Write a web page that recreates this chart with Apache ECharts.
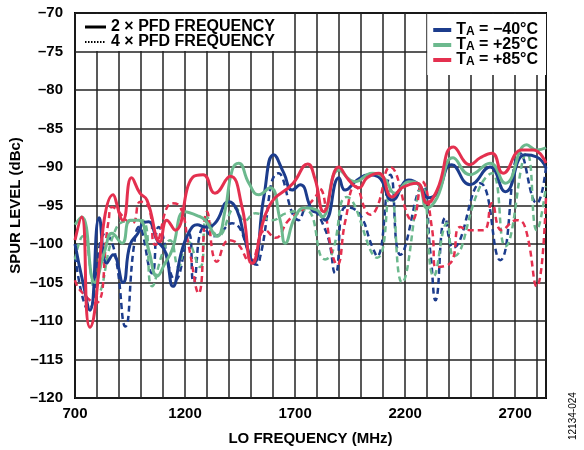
<!DOCTYPE html>
<html>
<head>
<meta charset="utf-8">
<script src="https://cdn.jsdelivr.net/npm/echarts@6/dist/echarts.min.js"></script>
<style>
	html, body { margin: 0; padding: 0; background: #fff; }
	#chart { width: 584px; height: 450px; }
</style>
</head>
<body>
<div id="chart"></div>
<script>
// x ticks / labels
var xTicks = [700, 1200, 1700, 2200, 2700];
var yTicks = [-120, -115, -110, -105, -100, -95, -90, -85, -80, -75, -70];
var tempNames = ['\u221240', '+25', '+85'];

// 2 x PFD frequency (solid) [MHz, dBc]
var blue2x = [[700,-100],[736,-105],[768,-108.6],[810,-96.6],[844,-102.5],[873,-101.4],[918,-105],[950,-100.1],[986,-98.6],[1009,-97.3],[1035,-97.1],[1073,-99.5],[1110,-101],[1145,-105.5],[1186,-100.8],[1223,-98.2],[1255,-97.5],[1291,-97.8],[1336,-97.3],[1399,-94.5],[1436,-95.6],[1473,-99.5],[1512,-102.5],[1558,-93.9],[1603,-88.4],[1649,-90.8],[1686,-93],[1723,-92.3],[1777,-95.6],[1808,-96],[1836,-96.9],[1899,-91.4],[1927,-93],[1982,-91.7],[2035,-91],[2080,-91.3],[2141,-94.3],[2217,-91.7],[2262,-92.3],[2307,-94],[2345,-93.4],[2412,-89.7],[2495,-92.3],[2586,-90],[2655,-93.2],[2745,-88.4],[2798,-88.7],[2840,-90.1]];
var green2x = [[700,-97.5],[731,-96.5],[790,-105],[836,-100.8],[868,-98.6],[914,-99.9],[950,-96.9],[990,-96.9],[1035,-100.8],[1073,-104.2],[1109,-102.5],[1141,-100.8],[1200,-95.8],[1255,-96.3],[1291,-96.9],[1345,-99],[1382,-95.6],[1414,-90.4],[1444,-89.5],[1490,-92.1],[1535,-93.6],[1586,-92.7],[1632,-96.9],[1655,-99.9],[1700,-96.5],[1745,-95.3],[1800,-95.6],[1823,-96.5],[1899,-90.4],[1973,-91.9],[2050,-90.8],[2103,-91.4],[2155,-93.4],[2217,-91.9],[2262,-92.3],[2300,-95.3],[2345,-94],[2418,-88.8],[2495,-91],[2586,-89.5],[2655,-92.1],[2753,-87.1],[2798,-87.8],[2840,-87.5]];
var red2x = [[700,-99.5],[730,-96.5],[768,-110.8],[873,-93.6],[917,-96.9],[957,-91.4],[995,-93.4],[1027,-94.3],[1086,-99.7],[1117,-96.9],[1155,-98.2],[1236,-91.3],[1282,-91],[1336,-93.4],[1405,-91.2],[1459,-95.2],[1505,-102.5],[1580,-95.2],[1691,-92.1],[1757,-89.6],[1790,-91.5],[1830,-95.8],[1899,-90],[1944,-91.7],[1990,-92.7],[2027,-91.4],[2080,-90.8],[2141,-93.9],[2186,-92.7],[2254,-92.1],[2300,-94.7],[2345,-93],[2420,-87.4],[2495,-89.7],[2541,-88.8],[2594,-88.2],[2645,-90.8],[2730,-87.8],[2782,-87.8],[2840,-89.5]];

// 4 x PFD frequency (dashed)
var blue4x = [[700,-101.6],[762,-108.6],[838,-98.6],[880,-101],[929,-110.7],[967,-100.4],[990,-97.8],[1050,-103.8],[1080,-97.8],[1156,-104.7],[1217,-98.6],[1239,-105],[1285,-97.9],[1330,-99],[1414,-97.3],[1527,-102.7],[1542,-101.6],[1626,-90.8],[1717,-96.9],[1755,-95.2],[1838,-98.2],[1883,-103.8],[1929,-95.2],[1990,-96],[2050,-100.3],[2073,-101.6],[2133,-91],[2179,-101.4],[2277,-92.5],[2315,-101.2],[2338,-107.3],[2382,-96.6],[2418,-100.5],[2541,-92.1],[2632,-102.1],[2723,-88.2],[2798,-94.7],[2840,-90]];
var green4x = [[700,-102],[735,-99],[800,-106.4],[883,-98.2],[940,-97],[1005,-96.9],[1050,-105.5],[1100,-101],[1132,-99.5],[1170,-103],[1208,-99.5],[1268,-103],[1300,-96.5],[1350,-99],[1429,-95.3],[1470,-97],[1520,-96],[1595,-96.9],[1660,-96],[1747,-95.6],[1836,-102],[1868,-101.2],[1935,-93.9],[2073,-101.8],[2132,-93],[2186,-105],[2277,-92.5],[2330,-104.2],[2390,-97.3],[2420,-101.6],[2541,-92.5],[2594,-90.8],[2655,-100.3],[2753,-88.2],[2798,-98.2],[2840,-92.5]];
var red4x = [[700,-104.7],[723,-106],[792,-107.7],[853,-96.9],[868,-95.2],[959,-97.3],[997,-94.5],[1035,-95.2],[1065,-100.1],[1141,-94.7],[1179,-95.2],[1217,-100.3],[1262,-106.4],[1300,-95.8],[1345,-102.3],[1399,-99.5],[1440,-100],[1495,-102.3],[1565,-98.2],[1610,-99.2],[1671,-96.9],[1732,-95.6],[1792,-93.9],[1810,-92.8],[1868,-101.2],[1891,-102.7],[1929,-96.9],[1974,-92.5],[2042,-96.2],[2073,-95.2],[2133,-90],[2232,-96.9],[2277,-91.9],[2323,-98.2],[2338,-103],[2405,-102.5],[2450,-97.8],[2495,-98.2],[2556,-98.2],[2594,-94.7],[2639,-98.2],[2707,-96.9],[2745,-97.8],[2798,-105.5],[2840,-93.9]];

var BLUE = '#1c3c8c';
var GREEN = '#6cb98e';
var RED = '#e4304f';
var FONT = '"Liberation Sans", Arial, sans-serif';

function solid(name, data, color) {
	return {
		name: name, type: 'line', data: data, smooth: 0.5, symbol: 'none', z: 3,
		itemStyle: { color: color },
		lineStyle: { color: color, width: 3 }
	};
}
function dashed(name, data, color) {
	return {
		name: name, type: 'line', data: data, smooth: 0.5, symbol: 'none', z: 2,
		itemStyle: { color: color },
		lineStyle: { color: color, width: 2.5, type: [6, 4] }
	};
}

var chart = echarts.init(document.getElementById('chart'));
var option = {
	animation: false,
	textStyle: { fontFamily: FONT },
	grid: { left: 75, right: 38, top: 13, bottom: 52, outerBoundsMode: 'none', containLabel: false, show: true, borderColor: '#000', borderWidth: 2 },
	xAxis: {
		type: 'value', min: 700, max: 2840, interval: 100,
		name: 'LO FREQUENCY (MHz)', nameLocation: 'middle', nameGap: 33,
		nameTextStyle: { fontWeight: 'bold', fontSize: 15, color: '#000', fontFamily: FONT },
		axisLine: { show: false }, axisTick: { show: false },
		axisLabel: {
			color: '#000', fontWeight: 'bold', fontSize: 15, margin: 8, fontFamily: FONT,
			showMaxLabel: false,
			formatter: function(v) { return xTicks.indexOf(v) >= 0 ? String(v) : ''; }
		},
		splitLine: { show: true, lineStyle: { color: '#222', width: 1.5 } }
	},
	yAxis: {
		type: 'value', min: yTicks[0], max: yTicks[yTicks.length - 1], interval: 5,
		name: 'SPUR LEVEL (dBc)', nameLocation: 'middle', nameGap: 52, nameMoveOverlap: false,
		nameTextStyle: { fontWeight: 'bold', fontSize: 15, color: '#000', fontFamily: FONT },
		axisLine: { show: false }, axisTick: { show: false },
		axisLabel: {
			color: '#000', fontWeight: 'bold', fontSize: 15, margin: 12, fontFamily: FONT,
			formatter: function(v) { return String(v).replace('-', '\u2013'); }
		},
		splitLine: { show: true, lineStyle: { color: '#222', width: 1.5 } }
	},
	legend: {
		data: tempNames, orient: 'vertical', right: 38, top: 14,
		backgroundColor: '#fff', padding: [6, 8, 7, 6], itemGap: -3,
		itemWidth: 18, itemHeight: 4, icon: 'rect',
		formatter: function(n) { return 'T{s|A} = ' + n + '\u00b0C'; },
		textStyle: {
			color: '#000', fontWeight: 'bold', fontSize: 16, fontFamily: FONT, lineHeight: 16,
			rich: { s: { fontSize: 12, fontWeight: 'bold', color: '#000', fontFamily: FONT, lineHeight: 16, verticalAlign: 'bottom', padding: [6, 0, 0, 0] } }
		}
	},
	graphic: [
		{ type: 'rect', left: 76, top: 14, z: 10, shape: { width: 208, height: 37 }, style: { fill: '#fff' } },
		{ type: 'line', z: 11, shape: { x1: 85, y1: 27, x2: 106, y2: 27 }, style: { stroke: '#000', lineWidth: 3 } },
		{ type: 'text', z: 11, x: 111, y: 27, style: { text: '2 \u00d7 PFD FREQUENCY', font: 'bold 16px ' + FONT, fill: '#000', verticalAlign: 'middle' } },
		{ type: 'line', z: 11, shape: { x1: 85, y1: 42, x2: 106, y2: 42 }, style: { stroke: '#000', lineWidth: 2, lineDash: [1.5, 1.5] } },
		{ type: 'text', z: 11, x: 111, y: 42, style: { text: '4 \u00d7 PFD FREQUENCY', font: 'bold 16px ' + FONT, fill: '#000', verticalAlign: 'middle' } },
		{ type: 'text', z: 11, x: 568, y: 440, rotation: Math.PI / 2, style: { text: '12134-024', font: '10px ' + FONT, fill: '#000' } }
	],
	series: [
		dashed('b4', blue4x, BLUE),
		dashed('g4', green4x, GREEN),
		dashed('r4', red4x, RED),
		solid(tempNames[0], blue2x, BLUE),
		solid(tempNames[1], green2x, GREEN),
		solid(tempNames[2], red2x, RED)
	]
};
chart.setOption(option);
</script>
</body>
</html>
